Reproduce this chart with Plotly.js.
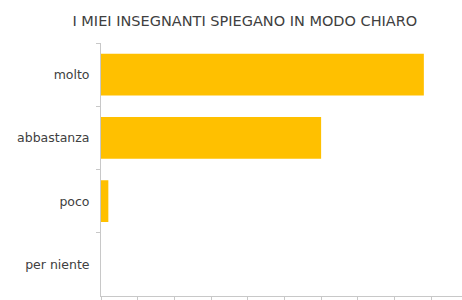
<!DOCTYPE html>
<html>
<head>
<meta charset="utf-8">
<script src="https://cdn.plot.ly/plotly-3.0.1.min.js"></script>
<style>html,body{margin:0;padding:0;background:#fff;}#chart{width:462px;height:300px;}</style>
</head>
<body>
<div id="chart"></div>
<script>
var categories = ["molto", "abbastanza", "poco", "per niente"];
var values = [44, 30, 1, 0];
var titleText = "I MIEI INSEGNANTI SPIEGANO IN MODO CHIARO";

var trace = {
  type: "bar",
  orientation: "h",
  y: categories,
  x: values,
  marker: {color: "#FFC000"},
  hoverinfo: "none"
};

var fontFam = "'DejaVu Sans', sans-serif";

var layout = {
  width: 462,
  height: 300,
  margin: {l: 101, r: 0, t: 43, b: 4},
  paper_bgcolor: "#fff",
  plot_bgcolor: "#fff",
  showlegend: false,
  bargap: 0.34,
  font: {family: fontFam, color: "#404040"},
  title: {
    text: titleText,
    font: {family: fontFam, size: 14.5, color: "#404040"},
    x: 0.53, xanchor: "center", xref: "container",
    y: 0.93, yanchor: "middle", yref: "container"
  },
  xaxis: {
    range: [0, 49.2],
    dtick: 5,
    tick0: 0,
    showgrid: false,
    zeroline: false,
    showline: true,
    linecolor: "#c8c8c8",
    linewidth: 1,
    ticks: "outside",
    ticklen: 3,
    tickcolor: "#c8c8c8",
    showticklabels: false
  },
  yaxis: {
    autorange: "reversed",
    showgrid: false,
    zeroline: false,
    showline: true,
    linecolor: "#c8c8c8",
    linewidth: 1,
    ticks: "outside",
    tickson: "boundaries",
    ticklen: 4,
    tickcolor: "#c8c8c8",
    ticklabelstandoff: 8,
    tickfont: {family: fontFam, size: 12.5, color: "#404040"}
  }
};

Plotly.newPlot("chart", [trace], layout, {displayModeBar: false, staticPlot: true});
</script>
</body>
</html>
